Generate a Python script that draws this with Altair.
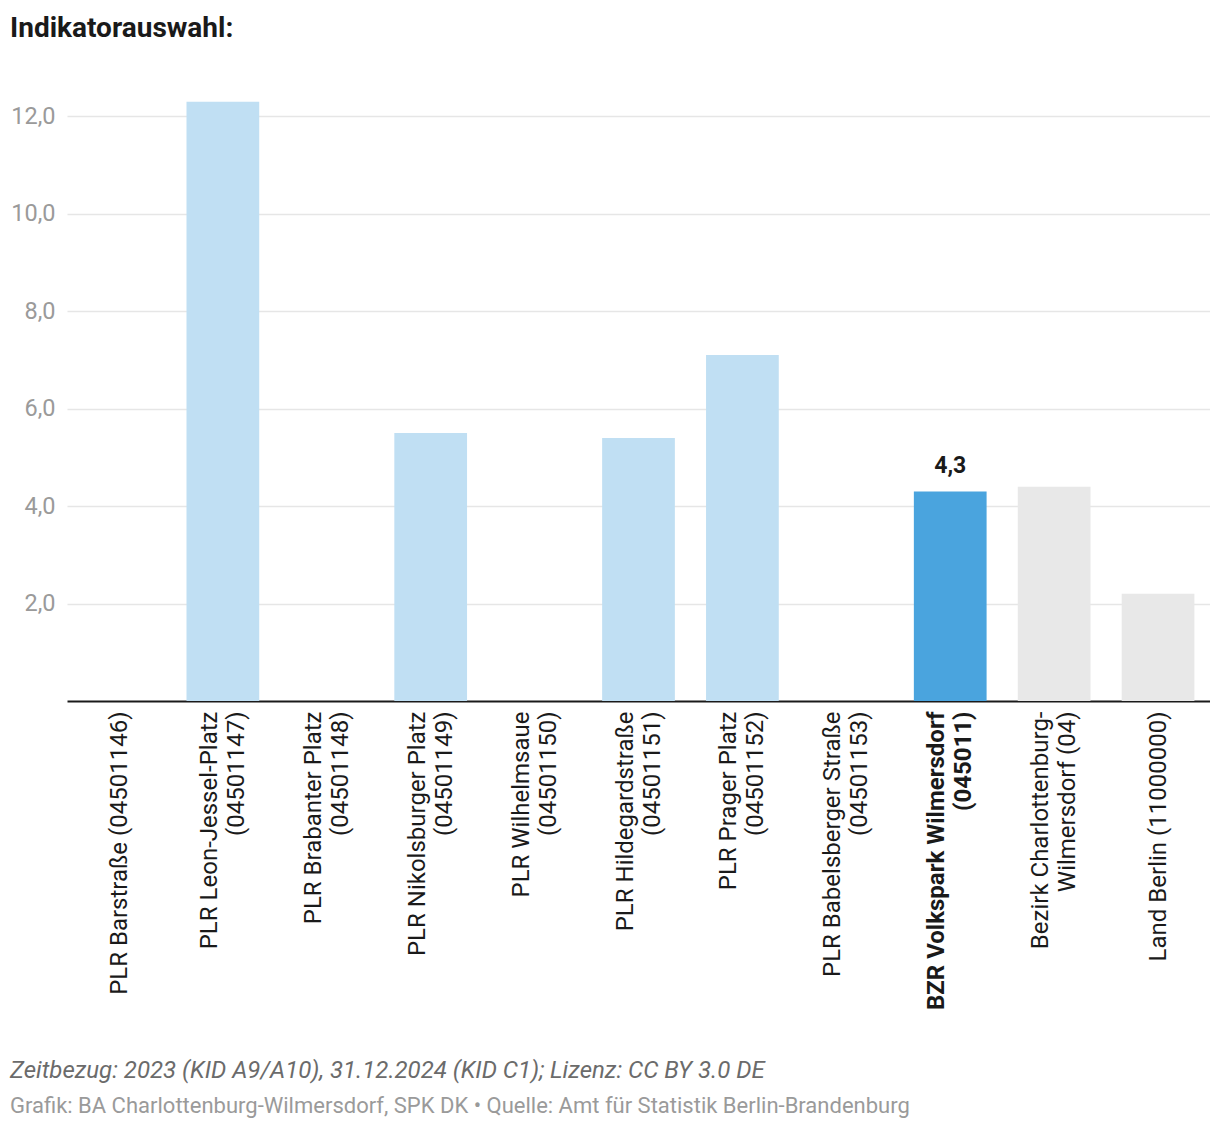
import altair as alt
import pandas as pd

categories = [
    "PLR Barstraße (04501146)",
    "PLR Leon-Jessel-Platz|(04501147)",
    "PLR Brabanter Platz|(04501148)",
    "PLR Nikolsburger Platz|(04501149)",
    "PLR Wilhelmsaue|(04501150)",
    "PLR Hildegardstraße|(04501151)",
    "PLR Prager Platz|(04501152)",
    "PLR Babelsberger Straße|(04501153)",
    "BZR Volkspark Wilmersdorf|(045011)",
    "Bezirk Charlottenburg-|Wilmersdorf (04)",
    "Land Berlin (11000000)",
]
values = [None, 12.3, None, 5.5, None, 5.4, 7.1, None, 4.3, 4.4, 2.2]
colors = ["#c0dff3", "#c0dff3", "#c0dff3", "#c0dff3", "#c0dff3", "#c0dff3",
          "#c0dff3", "#c0dff3", "#4aa4de", "#e8e8e8", "#e8e8e8"]
highlight = "BZR Volkspark Wilmersdorf|(045011)"

title_text = ["Indikatorauswahl:"]
footer1 = ["Zeitbezug: 2023 (KID A9/A10), 31.12.2024 (KID C1); Lizenz: CC BY 3.0 DE"]
footer2 = ["Grafik: BA Charlottenburg-Wilmersdorf, SPK DK • Quelle: Amt für Statistik Berlin-Brandenburg"]

df = pd.DataFrame({"cat": categories, "value": values, "color": colors})
df = df.dropna(subset=["value"])

FONT = "Roboto"

x = alt.X(
    "cat:N",
    scale=alt.Scale(domain=categories, paddingInner=0.3, paddingOuter=0.15),
    axis=alt.Axis(
        title=None,
        labelAngle=270,
        labelAlign="right",
        labelBaseline="middle",
        labelFont=FONT,
        labelFontSize=24,
        labelColor="#1a1a1a",
        labelLineHeight=27,
        labelPadding=10,
        labelLimit=500,
        labelExpr="split(datum.label, '|')",
        labelOffset={"condition": {"test": "indexof(datum.value, '|') >= 0", "value": -13}, "value": 1},
        labelFontWeight={"condition": {"test": f"datum.value === '{highlight}'", "value": "bold"}, "value": "normal"},
        ticks=False,
        domainColor="#1a1a1a",
        domainWidth=2,
        grid=False,
    ),
)
y = alt.Y(
    "value:Q",
    scale=alt.Scale(domain=[0, 12.5], nice=False),
    axis=alt.Axis(
        title=None,
        values=[2, 4, 6, 8, 10, 12],
        labelExpr="replace(format(datum.value, '.1f'), '.', ',')",
        labelFont=FONT,
        labelFontSize=23.5,
        labelColor="#9a9a9a",
        labelPadding=12,
        ticks=False,
        domain=False,
        grid=True,
        gridColor="#e6e6e6",
        gridWidth=1.5,
    ),
)

base = alt.Chart(df)
bars = base.mark_bar().encode(x=x, y=y, color=alt.Color("color:N", scale=None))
lbl = base.transform_filter(f"datum.cat === '{highlight}'").transform_calculate(
    txt="replace(format(datum.value, '.1f'), '.', ',')"
).mark_text(font=FONT, fontSize=23, fontWeight="bold", color="#1a1a1a", dy=-14, baseline="bottom").encode(
    x=x, y=y, text="txt:N"
)

title = alt.Chart(pd.DataFrame({"t": title_text})).mark_text(
    font=FONT, fontSize=28, fontWeight="bold", color="#1a1a1a", align="left", baseline="alphabetic"
).encode(x=alt.value(-57), y=alt.value(-55), text="t:N")
f1 = alt.Chart(pd.DataFrame({"t": footer1})).mark_text(
    font=FONT, fontSize=24, fontStyle="italic", color="#6b6b6b", align="left", baseline="alphabetic"
).encode(x=alt.value(-57), y=alt.value(986), text="t:N")
f2 = alt.Chart(pd.DataFrame({"t": footer2})).mark_text(
    font=FONT, fontSize=22, color="#9a9a9a", align="left", baseline="alphabetic"
).encode(x=alt.value(-57), y=alt.value(1021), text="t:N")

chart = alt.layer(bars, lbl, title, f1, f2).properties(
    width=1143,
    height=609,
    autosize="none",
    padding={"left": 59, "top": 84, "right": 0, "bottom": 420},
).configure_view(stroke=None)

chart.save("out.html", embed_options={"renderer": "svg", "actions": False})
